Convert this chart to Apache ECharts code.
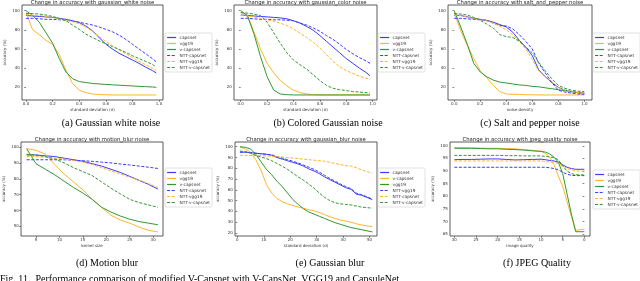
<!DOCTYPE html>
<html><head><meta charset="utf-8">
<script src="https://cdn.jsdelivr.net/npm/echarts@6/dist/echarts.min.js"></script>
<style>html,body{margin:0;padding:0;background:#fff}#c{width:640px;height:281px}</style>
</head><body><div id="c"></div>
<script>
// ---------- DATA ----------
const xA = [0,0.05,0.1,0.15,0.2,0.25,0.3,0.35,0.4,0.45,0.5,0.55,0.6,0.65,0.7,0.75,0.8,0.85,0.9,0.95,0.98];
const aCapsnet   = [95,94.5,94,93.5,93,92,91,89.5,87.5,84,79,72,65,60,55.5,52,48.5,45,41,37.5,35];
const aVgg19     = [98,80,75,69,65,54,38,24,17,14.5,13,12.5,12.2,12,12,12,12,12,12,12,12];
const aVcapsnet  = [100,95,88,77,66,50,36,29,26,25,24,23.5,23,22.6,22.2,21.8,21.4,21,20.7,20.3,20];
const aNttCaps   = [92,92,91.5,91,91,90.5,90,89,88,86.5,85,83,80.5,78,74.5,70,65,60,55,50,46.5];
const aNttVgg    = [96,95.5,95,94,93,91.5,90,88.5,86.5,83,78.5,73,68,63.5,59,55,51,47,43.5,40,37.5];
const aNttV      = [97,97,96.5,95.5,94,92,89.5,85,80.5,75.5,72,68.5,65.5,62.5,59.5,56.5,53,50,47,44,41];

const xB = [0,0.05,0.1,0.15,0.2,0.25,0.3,0.35,0.4,0.45,0.5,0.55,0.6,0.65,0.7,0.75,0.8,0.85,0.9,0.95,0.98];
const bCapsnet   = [95.5,95,94.5,94,93.5,93,92.5,91.5,89.5,87,83.5,79.5,74,68,62,56,50,45,40,35.5,32];
const bVgg19     = [98,96,78,60,45,35,27,21.5,17,14.5,13,12.3,12,12,12,12,12,12,12,12,12];
const bVcapsnet  = [100,95,76,52,31,17,13,12.3,12,12,12,12,12,12,12,12,12,12,12,12,12];
const bNttCaps   = [92,92,91.5,91,91,90.5,90.5,90,89.5,87,85,82,78.5,74,70,65,59.5,55,51,47.5,45];
const bNttVgg    = [95,94.5,93.5,92,90.5,89,87,84.5,81,76.5,72,67,61,54,47,41.5,37.5,34.5,31.5,29.5,28];
const bNttV      = [98,97.5,96.5,95,88,77,66,56,48.5,43.5,39,33,27,22,19,17.5,16.5,15.5,15,14.5,14];

const xC = [0,0.05,0.1,0.15,0.2,0.25,0.3,0.35,0.4,0.45,0.5,0.55,0.6,0.65,0.7,0.75,0.8,0.85,0.9,0.95,1.0];
const cCapsnet   = [95.5,95,93.5,92,91,90,88,85.5,83,77.5,69,62,53,38,31,25,20,17,15.5,14.5,13.7];
const cVgg19     = [98,79,64,50,37,30,22,15.5,13,12.7,12.5,12.3,12.2,12,12,12,12,12,12,12,12];
const cVcapsnet  = [100,83,65,45,36,31,27.5,25.5,24.5,23.5,22.5,22,21,20.5,19.5,18.5,17.5,16.5,15.5,14.5,13.7];
const cNttCaps   = [92,92,91.5,91,90.5,89.5,87,84.5,84,81,75,68,60,45,35,25,17,15,14,13,12.7];
const cNttVgg    = [95.5,95,93.5,92,91,89.5,87,84,80,75,68,60,49,37,31,26,20,17,15.5,14.5,13.7];
const cNttV      = [97,96.5,95.5,93,90,86,82,75,73,72,68,62,56,46,37,29,22,19,17,16,15.5];

const xD = [3,5,7,9,11,13,15,17,19,21,23,25,27,29,31];
const dCapsnet   = [95,95,94.5,94,93,92,91,89.5,88,86,84,81.5,79,76.5,73.5];
const dVgg19     = [99,98,95.5,89,83,78,73,67,62,57,54,52,49.5,47.5,46.5];
const dVcapsnet  = [99,89.5,86,82.5,78.5,74.5,71,67,62,59,56.5,54.5,53,52,51];
const dNttCaps   = [92,92,92,92,92,91.7,91.4,91,90.5,90,89.3,88.7,88,87.3,86.5];
const dNttVgg    = [94,94,93.5,93,92.5,91.5,90.5,89,87,85,83,81,79,77,74.5];
const dNttV      = [95.5,95,94,92.5,90,87,84.5,82,78,74,70.5,67,65,63.5,62];

const xE = [1,3,5,7,9,11,13,15,17,19,21,23,25,27,29,31,33,35,37,39,41,43,45,47,49,51];
const eCapsnet   = [95,95,94.5,94,93.5,93,92,90,88.5,87,85.5,84,82,79.5,77.5,75,72,69.5,67,64.5,62,60.5,56,55,53,51];
const eVcapsnet  = [100,98,95,88,78,65,57,52,49,47,45.5,44,43,41.5,40.5,39,37,35,33.5,32,31,30,28.5,27.5,26.5,26];
const eVgg19     = [100,99.5,98,93,86,79,74,68,63,57,51,46.5,42.5,39.5,37.5,35.5,33.5,31.5,29.5,28,26.5,25,24,23,22,21];
const eNttVgg    = [95,95,94.5,94,93.5,93,92.5,91,89.5,88,86.5,85,83,81,79,76.5,73.5,70.5,68,65.5,63,61,57,55.5,53.5,51.5];
const eNttCaps   = [92,92,92,91.8,91.6,91.4,91.2,91,90.5,90,89.5,89,88.5,88,87.5,87,86.5,85.5,84.5,83.5,82.5,82,80.5,78.5,77,75.5];
const eNttV      = [96,95.5,94,92,90.5,89,87,84.5,82,79,75.5,72,69,65.5,61.5,57,53,50,48,47,46.5,46,45,44,43.5,43];

const xF = [30,28,26,24,22,20,18,16,14,12,10,9,8,7,6,5,4,3,2,1,0];
const fCapsnet   = [94.5,94.6,94.6,94.7,94.8,94.8,94.6,94.4,94.5,94.6,94.7,94.5,94.2,94,93.5,92.5,91.5,91,90.7,90.7,90.7];
const fVgg19     = [99.3,99.3,99.2,99.1,99,99,98.9,98.8,98.5,98.2,97.8,97,95.5,92.5,88,84,78,72,66.5,66.8,67];
const fVcapsnet  = [99,99,99,98.9,98.8,98.8,98.6,98.5,98.3,98,97.8,97.5,96.8,95.5,93.5,89,81,73,66,66,66];
const fNttCaps   = [91.5,91.5,91.5,91.5,91.5,91.5,91.5,91.5,91.5,91.5,91.5,91.5,91.3,91,90.5,89.5,88.8,88.3,88.2,88.2,88.2];
const fNttVgg    = [94,94,94,94,94,94,94,94,94,94,94,93.8,93.6,93.3,93,92,91,90.5,90,90,90];
const fNttV      = [96.2,96.2,96.2,96.2,96.2,96.2,96.1,96.1,96,96,96,95.8,95.6,95.3,94.5,92,90,89,88.5,88.5,88.5];

const labelsStd = ['capsnet','vgg19','v-capsnet','NTT-capsnet','NTT-vgg19','NTT-v-capsnet'];
const labelsE   = ['capsnet','v-capsnet','vgg19','NTT-vgg19','NTT-capsnet','NTT-v-capsnet'];

const titles = ['Change in accuracy with gaussian_white noise','Change in accuracy with gaussian_color noise',
  'Change in accuracy with salt_and_pepper noise','Change in accuracy with motion_blur noise',
  'Change in accuracy with gaussian_blur noise','Change in accuracy with jpeg_quality noise'];
const xNames = ['standard deviation (σ)','standard deviation (σ)','noise density','kernel size','standard deviation (σ)','image quality'];
const captions = ['(a) Gaussian white noise','(b) Colored Gaussian noise','(c) Salt and pepper noise',
  '(d) Motion blur','(e) Gaussian blur','(f) JPEG Quality'];
const figCaption = 'Fig. 11.  Performance comparison of modified V-Capsnet with V-CapsNet, VGG19 and CapsuleNet';

const xTicksABC = [0,0.2,0.4,0.6,0.8,1.0];
const yTicksABC = [20,40,60,80,100];
const xTicksD = [5,10,15,20,25,30];
const yTicksD = [50,60,70,80,90,100];
const xTicksE = [0,10,20,30,40,50];
const yTicksE = [20,30,40,50,60,70,80,90,100];
const xTicksF = [30,25,20,15,10,5,0];
const yTicksF = [65,70,75,80,85,90,95,100];

// ---------- LAYOUT ----------
const panels = [
  {x:xA, ys:[aCapsnet,aVgg19,aVcapsnet,aNttCaps,aNttVgg,aNttV], labels:labelsStd,
   box:[22,5,163,100], xr:[-0.03,1.03], yr:[6.74,105.95], xt:xTicksABC, yt:yTicksABC, fmt:1, leg:[165,33], cap:[111,123]},
  {x:xB, ys:[bCapsnet,bVgg19,bVcapsnet,bNttCaps,bNttVgg,bNttV], labels:labelsStd,
   box:[234,5,377,100], xr:[-0.051,1.033], yr:[6.74,105.95], xt:xTicksABC, yt:yTicksABC, fmt:1, leg:[378,33], cap:[328,123]},
  {x:xC, ys:[cCapsnet,cVgg19,cVcapsnet,cNttCaps,cNttVgg,cNttV], labels:labelsStd,
   box:[448,5,592,100], xr:[-0.048,1.059], yr:[6.74,105.95], xt:xTicksABC, yt:yTicksABC, fmt:1, leg:[593,33], cap:[530,123]},
  {x:xD, ys:[dCapsnet,dVgg19,dVcapsnet,dNttCaps,dNttVgg,dNttV], labels:labelsStd,
   box:[21,142,163,236], xr:[1.8,32.1], yr:[43.9,103.2], xt:xTicksD, yt:yTicksD, fmt:0, leg:[165,168], cap:[107,263]},
  {x:xE, ys:[eCapsnet,eVcapsnet,eVgg19,eNttVgg,eNttCaps,eNttV], labels:labelsE,
   box:[235,142,377,236], xr:[-0.87,52.8], yr:[17.2,104.4], xt:xTicksE, yt:yTicksE, fmt:0, leg:[378,168], cap:[330,263]},
  {x:xF, ys:[fCapsnet,fVgg19,fVcapsnet,fNttCaps,fNttVgg,fNttV], labels:labelsStd,
   box:[450,142,590,236], xr:[-1.3,31], yr:[64.3,101.5], xt:xTicksF, yt:yTicksF, fmt:0, leg:[593,170], cap:[537,263], inverse:true}
];
const colors = ['#3b3bff','#ffb52e','#2f9a2f','#3b3bff','#ffb52e','#2f9a2f'];
const FONT = 'DejaVu Sans';

const grid=[], xAxis=[], yAxis=[], series=[], legend=[], graphic=[];
panels.forEach((p,k)=>{
  const [l,t,r,b] = p.box;
  grid.push({left:l, top:t, width:r-l, height:b-t, show:true, borderColor:'#333', borderWidth:0.8, backgroundColor:'transparent'});
  xAxis.push({type:'value', gridIndex:k, min:p.xr[0], max:p.xr[1], inverse:!!p.inverse,
    axisLine:{show:false}, splitLine:{show:false},
    axisTick:{show:true, length:1.8, lineStyle:{color:'#333',width:0.6}, customValues:p.xt},
    axisLabel:{fontSize:4, color:'#333', margin:2.2, fontFamily:FONT, customValues:p.xt,
      formatter:v=> p.fmt? v.toFixed(1) : String(v)},
    name:xNames[k], nameLocation:'middle', nameGap:8, nameTextStyle:{fontSize:4, color:'#333', fontFamily:FONT}});
  yAxis.push({type:'value', gridIndex:k, min:p.yr[0], max:p.yr[1],
    axisLine:{show:false}, splitLine:{show:false},
    axisTick:{show:true, length:1.8, lineStyle:{color:'#333',width:0.6}, customValues:p.yt},
    axisLabel:{fontSize:4, color:'#333', margin:2.2, fontFamily:FONT, customValues:p.yt},
    name:'accuracy (%)', nameLocation:'middle', nameGap:15, nameTextStyle:{fontSize:4, color:'#333', fontFamily:FONT}});
  const names=[];
  p.ys.forEach((ys,i)=>{
    const nm = p.labels[i]+'|'+k;
    names.push(nm);
    series.push({type:'line', name:nm, xAxisIndex:k, yAxisIndex:k, symbol:'none', smooth:false,
      data:p.x.map((xv,j)=>[xv, ys[j]]),
      lineStyle:{color:colors[i], width:1, type: i<3 ? 'solid' : [3,1.6]},
      itemStyle:{color:colors[i]}, z: 2});
  });
  legend.push({data:names, orient:'vertical', left:p.leg[0], top:p.leg[1],
    itemWidth:9, itemHeight:4, itemGap:2, itemStyle:{opacity:0},
    lineStyle:{width:1.2},
    padding:[2.5,2,2.5,1.5], borderColor:'#ccc', borderWidth:0.6, borderRadius:1.5,
    backgroundColor:'#fff', selectedMode:false,
    textStyle:{fontSize:4.3, color:'#333', fontFamily:FONT, padding:[0,0,0,-1.5]},
    formatter:n=>n.split('|')[0]});
  graphic.push({type:'text', x:(l+r)/2, y:t-2.6, style:{text:titles[k], fontSize:5.3, fontFamily:FONT, fill:'#222', align:'center', verticalAlign:'middle'}});
  graphic.push({type:'text', x:p.cap[0], y:p.cap[1], style:{text:captions[k], fontSize:10, fontFamily:'Liberation Serif', fill:'#000', align:'center', verticalAlign:'middle'}});
});
graphic.push({type:'text', x:0, y:274, style:{text:figCaption, fontSize:10, fontFamily:'Liberation Serif', fill:'#000', align:'left', verticalAlign:'top'}});

const chart = echarts.init(document.getElementById('c'), null, {renderer:'canvas'});
chart.setOption({animation:false, backgroundColor:'#fff', grid, xAxis, yAxis, series, legend, graphic});
</script></body></html>
